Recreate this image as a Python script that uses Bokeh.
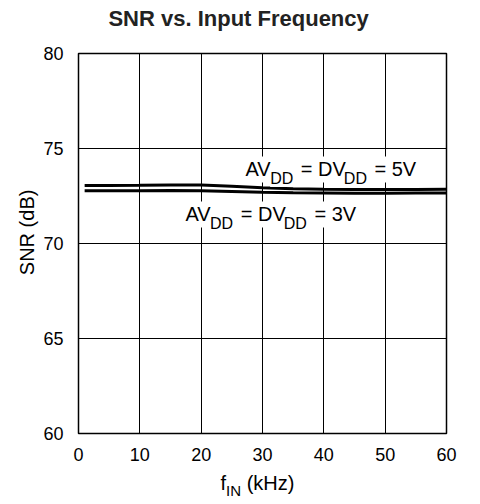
from bokeh.plotting import figure
from bokeh.layouts import column
from bokeh.models import Label, FixedTicker, Range1d
from bokeh.embed import file_html
from bokeh.resources import INLINE

freq = [1, 5, 10, 15, 20, 25, 30, 35, 40, 45, 50, 55, 60]
snr_5v = [73.05, 73.05, 73.06, 73.08, 73.08, 73.01, 72.93, 72.88, 72.85, 72.84, 72.84, 72.84, 72.85]
snr_3v = [72.78, 72.78, 72.78, 72.79, 72.78, 72.74, 72.70, 72.67, 72.66, 72.65, 72.65, 72.66, 72.66]
x_ticks = [0, 10, 20, 30, 40, 50, 60]
y_ticks = [60, 65, 70, 75, 80]

FONT = "Liberation Sans"
NBSP = "\u00a0"
TITLE = "SNR vs. Input Frequency"

p = figure(width=480, height=421, output_backend="svg", toolbar_location=None,
           x_range=Range1d(0, 60), y_range=Range1d(60, 80),
           min_border_left=78, min_border_right=34, min_border_top=10, min_border_bottom=31)

p.line(freq, snr_5v, line_color="black", line_width=3)
p.line(freq, snr_3v, line_color="black", line_width=3)

for ax in (p.xaxis[0], p.yaxis[0]):
    ax.major_tick_line_color = None
    ax.minor_tick_line_color = None
    ax.axis_line_color = None
    ax.major_label_text_font = FONT
    ax.major_label_text_font_size = "18px"
    ax.major_label_text_color = "black"
    ax.axis_label_text_font = FONT
    ax.axis_label_text_font_style = "normal"
    ax.axis_label_text_font_size = "20px"
    ax.axis_label_text_color = "black"

p.xaxis.major_label_standoff = 8
p.yaxis.major_label_standoff = 9
p.xaxis.ticker = FixedTicker(ticks=x_ticks)
p.yaxis.ticker = FixedTicker(ticks=y_ticks)
p.yaxis.axis_label = NBSP * 4 + "SNR (dB)"
p.yaxis.axis_label_standoff = 2

p.xgrid.ticker = FixedTicker(ticks=x_ticks)
p.ygrid.ticker = FixedTicker(ticks=y_ticks)
p.grid.grid_line_color = "black"
p.grid.grid_line_width = 1
p.grid.grid_line_alpha = 1
p.outline_line_color = "black"
p.outline_line_width = 1.5
p.background_fill_color = "white"
p.border_fill_color = "white"


def strip(height):
    f = figure(width=480, height=height, output_backend="svg", toolbar_location=None,
               x_range=p.x_range, y_range=Range1d(0, 1), x_axis_type=None, y_axis_type=None,
               min_border_left=78, min_border_right=34, min_border_top=0, min_border_bottom=0)
    f.grid.visible = False
    f.outline_line_color = None
    f.background_fill_color = "white"
    f.border_fill_color = "white"
    return f


# strip above the chart with the title, strip below with the x-axis title
p_top = strip(43)
p_bot = strip(40)

p_top.add_layout(Label(x=26.1, y=1, y_offset=-18, text=TITLE, text_font=FONT,
                       text_font_size="22px", text_font_style="bold", text_color="#222222",
                       text_align="center", text_baseline="alphabetic"))


def rich_label(fig, x, y, pieces, main_size=20, sub_size=16, sub_drop=9, base_dy=0, bg=True):
    # pieces: list of (text, is_sub, x_offset_px)
    for text, is_sub, dx in pieces:
        lab = Label(x=x, y=y, x_offset=dx, y_offset=base_dy - (sub_drop if is_sub else 0),
                    text=text, text_font=FONT,
                    text_font_size=f"{sub_size if is_sub else main_size}px",
                    text_color="black", text_baseline="alphabetic", text_align="left")
        if bg:
            lab.background_fill_color = "white"
            lab.padding = 0 if is_sub else 2
        fig.add_layout(lab)


def supply_pieces(volt):
    m, s = 20 / 1000, 16 / 1000
    av = 1334 * m
    dd = 1444 * s
    sp = 278 * m
    eq_dv = 2251 * m
    x1 = av
    x2 = x1 + dd + sp
    x3 = x2 + eq_dv
    x4 = x3 + dd + sp
    return [("AV", False, 0), ("DD", True, x1), ("= DV", False, x2),
            ("DD", True, x3), (f"= {volt}", False, x4)]


rich_label(p, 26.9, 73.9, supply_pieces("5V"))
rich_label(p, 17.1, 71.53, supply_pieces("3V"))

# x-axis title "f_IN (kHz)"
rich_label(p_bot, 30, 1, [("f", False, -42), ("IN", True, -42 + 5.6), ("(kHz)", False, -42 + 5.6 + 15 + 5.6)],
           main_size=20, sub_size=15, sub_drop=8, base_dy=-18, bg=False)

layout = column(p_top, p, p_bot, spacing=0)
open("out.html", "w").write(file_html(layout, INLINE))
